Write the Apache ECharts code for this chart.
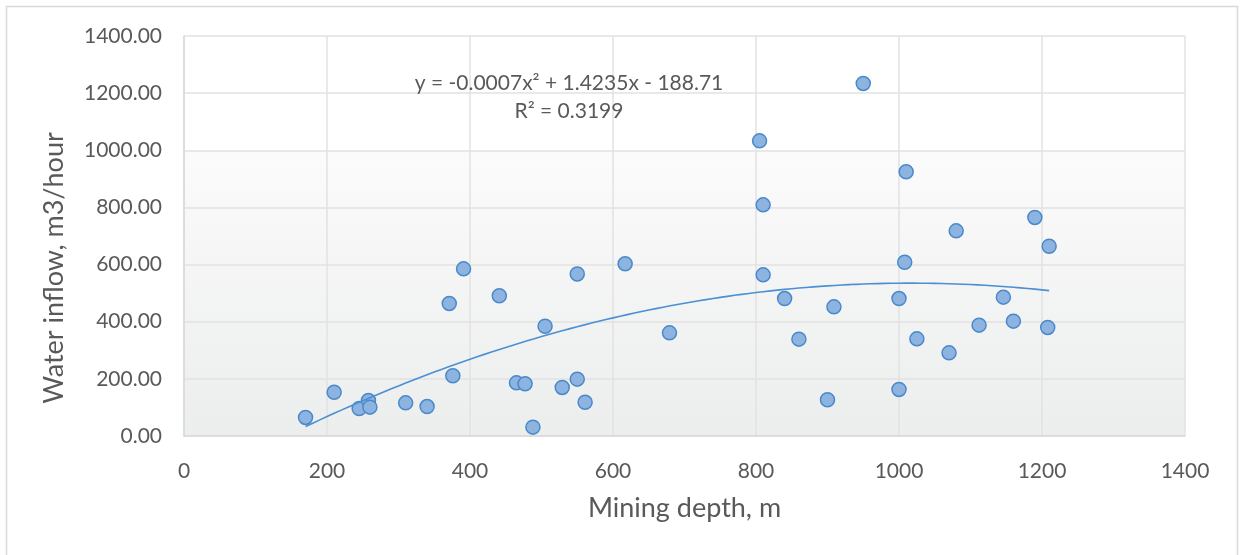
<!DOCTYPE html>
<html>
<head>
<meta charset="utf-8">
<script src="https://cdn.jsdelivr.net/npm/echarts@6/dist/echarts.min.js"></script>
<style>
  html, body { margin: 0; padding: 0; background: #ffffff; }
  #chart { width: 1241px; height: 555px; }
</style>
</head>
<body>
<div id="chart"></div>
<script>
// Mining depth (m) of each observation
const depth = [
  170, 210, 245, 258, 260, 310, 340, 371, 376, 391,
  441, 465, 477, 488, 505, 529, 550, 550, 561, 617,
  679, 805, 810, 810, 840, 860, 900, 909, 950, 1000,
  1000, 1008, 1010, 1025, 1070, 1080, 1112, 1146, 1160, 1190,
  1208, 1210
];
// Water inflow (m3/hour) of each observation
const inflow = [
  65, 153, 96, 124, 101, 116, 103, 464, 211, 585,
  491, 186, 183, 31, 384, 170, 199, 567, 118, 603,
  361, 1033, 809, 564, 481, 339, 127, 452, 1234, 481,
  163, 608, 925, 340, 291, 718, 388, 486, 402, 765,
  380, 664
];
// Polynomial trendline coefficients (x^2, x, constant) as printed on the chart
const trendCoef = [-0.0007, 1.4235, -188.71];
const rSquared = '0.3199';
const xTitle = 'Mining depth, m';
const yTitle = 'Water inflow, m3/hour';

const points = depth.map((d, i) => [d, inflow[i]]);

// Sample the fitted curve across the observed depth range
const xMin = Math.min(...depth), xMax = Math.max(...depth);
const poly = x => trendCoef[0] * x * x + trendCoef[1] * x + trendCoef[2];
const trend = [];
for (let x = xMin; x < xMax; x += 10) trend.push([x, poly(x)]);
trend.push([xMax, poly(xMax)]);

const eqText = 'y = ' + trendCoef[0] + 'x\u00B2 + ' + trendCoef[1] + 'x - ' + Math.abs(trendCoef[2]);
const r2Text = 'R\u00B2 = ' + rSquared;

const FONT = 'Lato, "Open Sans", sans-serif';
const GREY = '#595959';
const GRID = '#e2e2e2';

const chart = echarts.init(document.getElementById('chart'), null, { renderer: 'canvas' });
chart.setOption({
  backgroundColor: '#ffffff',
  animation: false,
  textStyle: { fontFamily: FONT },
  grid: {
    left: 184, top: 36, width: 1001, height: 400,
    show: true,
    borderWidth: 0,
    backgroundColor: {
      type: 'linear', x: 0, y: 0, x2: 0, y2: 1,
      colorStops: [
        { offset: 0, color: '#ffffff' },
        { offset: 0.285, color: '#ffffff' },
        { offset: 0.29, color: '#fbfbfb' },
        { offset: 1, color: '#eceded' }
      ]
    }
  },
  graphic: [
    {
      type: 'rect', silent: true, z: -10,
      shape: { x: 6.5, y: 6.5, width: 1231, height: 600 },
      style: { fill: 'none', stroke: '#d9d9d9', lineWidth: 1.5 }
    },
    {
      // vertical axis title, reading bottom to top
      type: 'text', x: 54, y: 268, rotation: Math.PI / 2, z: 10,
      style: { text: yTitle, font: '27px ' + FONT, fill: GREY, textAlign: 'center', textVerticalAlign: 'middle' }
    },
    {
      type: 'text', x: 569, y: 83, z: 10,
      style: { text: eqText, font: '21px ' + FONT, fill: GREY, textAlign: 'center', textVerticalAlign: 'middle' }
    },
    {
      type: 'text', x: 569, y: 111, z: 10,
      style: { text: r2Text, font: '21px ' + FONT, fill: GREY, textAlign: 'center', textVerticalAlign: 'middle' }
    }
  ],
  xAxis: {
    type: 'value', min: 0, max: 1400, interval: 200,
    name: xTitle, nameLocation: 'middle', nameGap: 59,
    nameTextStyle: { fontSize: 27, color: GREY, fontFamily: FONT },
    axisLine: { show: true, lineStyle: { color: '#d9d9d9', width: 1.5 } },
    axisTick: { show: false },
    axisLabel: { fontSize: 21, color: GREY, margin: 25, fontFamily: FONT,
      formatter: v => String(v) },
    splitLine: { show: true, lineStyle: { color: GRID, width: 1.5 } }
  },
  yAxis: {
    type: 'value', min: 0, max: 1400, interval: 200,
    axisLine: { show: true, lineStyle: { color: '#d9d9d9', width: 1.5 } },
    axisTick: { show: false },
    axisLabel: { fontSize: 21, color: GREY, margin: 22, fontFamily: FONT,
      formatter: v => v.toFixed(2) },
    splitLine: { show: true, lineStyle: { color: GRID, width: 1.5 } }
  },
  series: [
    {
      type: 'scatter',
      data: points,
      symbol: 'circle',
      symbolSize: 14,
      itemStyle: { color: '#8db3e0', borderColor: '#4a89c9', borderWidth: 1.5, opacity: 1 },
      z: 2
    },
    {
      type: 'line',
      data: trend,
      showSymbol: false,
      smooth: false,
      lineStyle: { color: '#4a90d2', width: 1.6 },
      z: 3
    }
  ]
});
</script>
</body>
</html>
